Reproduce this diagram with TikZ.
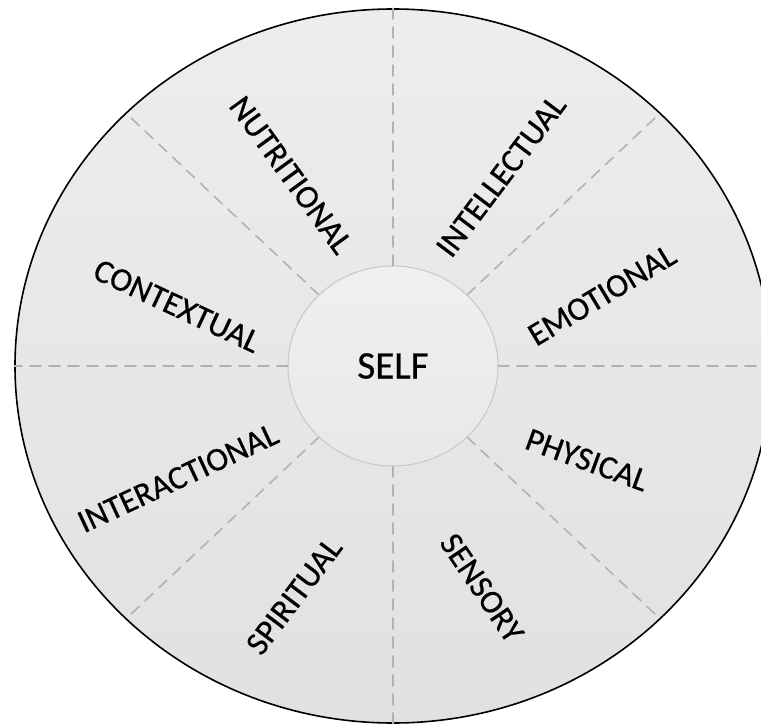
\documentclass[tikz,border=0pt]{standalone}
\usepackage{fontspec}
\setmainfont{Carlito}
\newfontfamily\wheelfont{Carlito}[FakeBold=0.6]
\usetikzlibrary{shapes.geometric}
\definecolor{rimfill}{RGB}{237,237,237}
\definecolor{rimfilldark}{RGB}{225,225,225}
\definecolor{spokegray}{RGB}{178,178,178}
\begin{document}
\begin{tikzpicture}[x=1pt, y=1pt,
	word/.style = {font=\wheelfont\fontsize{33}{33}\selectfont, inner sep=0pt},
	spoke/.style = {draw=spokegray, line width=1.6pt, dash pattern=on 11pt off 8pt, line cap=round}]

		\useasboundingbox (-393,-360) rectangle (368,366);

		\node[ellipse, draw, line width=1.6pt, top color=rimfill, bottom color=rimfilldark,
			minimum width=756, minimum height=714, inner sep=0pt] (wheel) at (0,0) {};

		\draw[spoke] (0,100) -- (wheel.north);
		\draw[spoke] (0,-100) -- (wheel.south);
		\draw[spoke] (105,0) -- (wheel.east);
		\draw[spoke] (-105,0) -- (wheel.west);
		\draw[spoke] (74,71) -- (262,248);
		\draw[spoke] (-74,71) -- (-264,250);
		\draw[spoke] (74,-71) -- (262,-248);
		\draw[spoke] (-74,-71) -- (-264,-250);

		\node[ellipse, draw=black!22, line width=1pt, top color=black!6, bottom color=black!9,
			minimum width=210, minimum height=200, inner sep=0pt,
			font=\wheelfont\fontsize{39}{39}\selectfont] (self) at (0,0) {SELF};

		\node[word, rotate=-54] (nutritional) at (-102,191) {NUTRITIONAL};
		\node[word, rotate=53] (intellectual) at (108,190) {INTELLECTUAL};
		\node[word, rotate=31] (emotional) at (209,71) {EMOTIONAL};
		\node[word, rotate=-25] (contextual) at (-216,60) {CONTEXTUAL};
		\node[word, rotate=25] (interactional) at (-215,-112) {INTERACTIONAL};
		\node[word, rotate=-20] (physical) at (194,-94) {PHYSICAL};
		\node[word, rotate=53] (spiritual) at (-99,-230) {SPIRITUAL};
		\node[word, rotate=-56] (sensory) at (89,-222) {SENSORY};
	\end{tikzpicture}
\end{document}
